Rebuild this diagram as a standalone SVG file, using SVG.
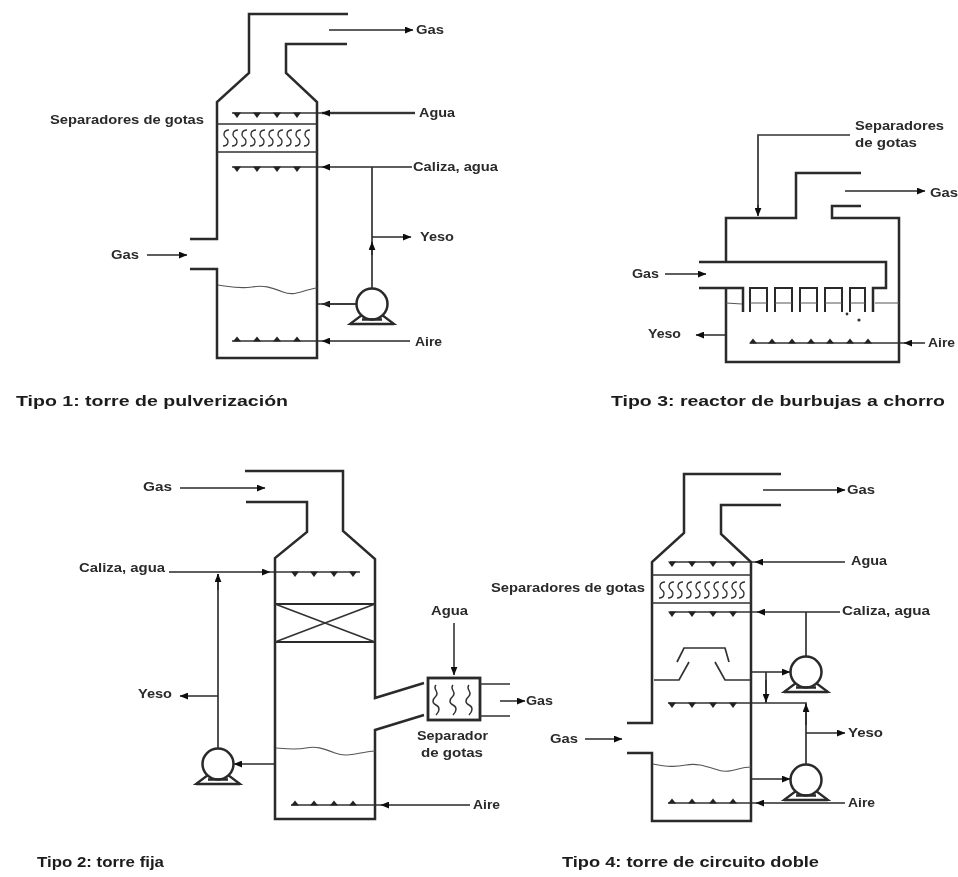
<svg xmlns="http://www.w3.org/2000/svg" width="958" height="877" viewBox="0 0 958 877">
<style>
text{font-family:"Liberation Sans",Arial,sans-serif;font-weight:bold;fill:#2a2a2a;font-size:12px}
.cap{font-size:15px;fill:#1c1c1c}
.w{fill:none;stroke:#2a2a2a;stroke-width:2.5}
.l{fill:none;stroke:#333;stroke-width:1.7}
.a{fill:none;stroke:#2a2a2a;stroke-width:1.5;marker-end:url(#ar)}
.t{fill:none;stroke:#555;stroke-width:1.1}
</style>
<defs>
<filter id="b" x="-2%" y="-2%" width="104%" height="104%"><feGaussianBlur stdDeviation="0.65"/></filter>
<marker id="ar" viewBox="0 0 10 8" refX="9.5" refY="4" markerUnits="userSpaceOnUse" markerWidth="9" markerHeight="7" orient="auto"><path d="M0 0L10 4L0 8z" fill="#111"/></marker>
<path id="nd" d="M-4 -0.5H4L0 5z" fill="#222"/>
<path id="nu" d="M-4 0.5H4L0 -4.5z" fill="#222"/>
<path id="sw" d="M3 -8C-3 -8 -3 -2 0 0S3 8 -3 8" fill="none" stroke="#333" stroke-width="1.3"/>
<path id="vw" d="M0 -15C-4 -11 4 -8 0 -4S-4 3 0 5S4 11 0 15" fill="none" stroke="#333" stroke-width="1.5"/>
<g id="pump"><circle r="15.5" fill="#fff" stroke="#2a2a2a" stroke-width="2.5"/><path d="M-10 11L-22 20H22L10 11" fill="none" stroke="#2a2a2a" stroke-width="2.2"/><path d="M-22 20H22M-10 15.5H10" stroke="#2a2a2a" stroke-width="2.6"/></g>
</defs>
<g filter="url(#b)">
<g id="connectors">
<path class="a" d="M329 30H413"/>
<path class="l" d="M322 113H415" style="stroke-width:2.6;stroke:#555"/><path class="a" d="M415 113H322"/><path class="l" d="M232 113H322"/>
<path class="a" d="M412 167H322"/><path class="l" d="M232 167H322"/>
<path class="l" d="M372 167V289"/><path class="a" d="M372 255V242"/><path class="a" d="M372 237H411"/>
<path class="a" d="M147 255H187"/>
<path class="a" d="M356 304H322"/><path class="l" d="M317 304H356"/>
<path class="a" d="M410 341H322"/><path class="l" d="M232 341H322"/>

<path class="l" d="M850 135H758V212"/><path class="a" d="M758 205V216"/>
<path class="a" d="M845 191H925"/>
<path class="a" d="M665 274H706"/>
<path class="a" d="M726 335H696"/>
<path class="a" d="M925 343H904"/><path class="l" d="M750 343H905"/>

<path class="a" d="M180 488H265"/>
<path class="a" d="M169 572H270"/><path class="l" d="M270 572H360"/>
<path class="l" d="M218 748V574"/><path class="a" d="M218 590V574"/>
<path class="a" d="M218 696H180"/>
<path class="a" d="M274 764H234"/>
<path class="a" d="M470 805H381"/><path class="l" d="M291 805H382"/>
<path class="a" d="M454 623V675"/>
<path class="a" d="M500 701H525"/>

<path class="a" d="M763 490H845"/>
<path class="a" d="M845 562H755"/><path class="l" d="M670 562H756"/>
<path class="a" d="M840 612H757"/><path class="l" d="M670 612H758"/>
<path class="l" d="M806 612V657"/>
<path class="a" d="M751 672H790"/>
<path class="l" d="M766 672V703"/><path class="a" d="M766 680V702"/>
<path class="l" d="M668 703H806V764"/><path class="a" d="M806 725V704"/>
<path class="a" d="M806 733H845"/>
<path class="a" d="M751 779H790"/>
<path class="a" d="M845 803H756"/><path class="l" d="M668 803H757"/>
<path class="a" d="M585 739H622"/>
</g>

<g id="torre-1">
<path class="w" d="M348 14H249V73L217 102V239H190"/>
<path class="w" d="M190 269H217V358H317V102L286 73V44H347"/>
<path class="l" d="M217 124H317M217 152H317"/>
<path class="t" d="M218 285C232 287 240 289 252 287S270 287 283 292S305 289 317 288"/>
<use href="#nd" x="237" y="113"/><use href="#nd" x="257" y="113"/><use href="#nd" x="277" y="113"/><use href="#nd" x="297" y="113"/>
<use href="#nd" x="237" y="167"/><use href="#nd" x="257" y="167"/><use href="#nd" x="277" y="167"/><use href="#nd" x="297" y="167"/>
<use href="#nu" x="237" y="341"/><use href="#nu" x="257" y="341"/><use href="#nu" x="277" y="341"/><use href="#nu" x="297" y="341"/>
<g><use href="#sw" x="226" y="138"/><use href="#sw" x="235" y="138"/><use href="#sw" x="244" y="138"/><use href="#sw" x="253" y="138"/><use href="#sw" x="262" y="138"/><use href="#sw" x="271" y="138"/><use href="#sw" x="280" y="138"/><use href="#sw" x="289" y="138"/><use href="#sw" x="298" y="138"/><use href="#sw" x="307" y="138"/></g>
<use href="#pump" x="372" y="304"/>
<text x="50" y="124" textLength="154" lengthAdjust="spacingAndGlyphs">Separadores de gotas</text>
<text x="416" y="34" textLength="28" lengthAdjust="spacingAndGlyphs">Gas</text><text x="419" y="117" textLength="36" lengthAdjust="spacingAndGlyphs">Agua</text><text x="413" y="171" textLength="85" lengthAdjust="spacingAndGlyphs">Caliza, agua</text><text x="420" y="241" textLength="34" lengthAdjust="spacingAndGlyphs">Yeso</text><text x="111" y="259" textLength="28" lengthAdjust="spacingAndGlyphs">Gas</text><text x="415" y="346" textLength="27" lengthAdjust="spacingAndGlyphs">Aire</text>
<text class="cap" x="16" y="406" textLength="272" lengthAdjust="spacingAndGlyphs">Tipo 1: torre de pulverización</text>
</g>

<g id="torre-3">
<path class="w" d="M726 262V218H796V173H861"/>
<path class="w" d="M861 206H832V218H899V362H726V288"/>
<path class="w" d="M699 262H886V288H873V312"/>
<path class="w" d="M699 288H743V312"/>
<path class="w" style="stroke-width:2" d="M750 312V288H767V312M775 312V288H792V312M800 312V288H817V312M825 312V288H842V312M850 312V288H865V312"/>
<path class="t" d="M726 303L742 304M750 303H767M775 303H792M800 303H817M825 303H842M850 303H865M875 303H899"/>
<circle cx="847" cy="314" r="1.4" fill="#333"/><circle cx="859" cy="320" r="1.6" fill="#333"/>
<use href="#nu" x="753" y="343"/><use href="#nu" x="772" y="343"/><use href="#nu" x="792" y="343"/><use href="#nu" x="811" y="343"/><use href="#nu" x="830" y="343"/><use href="#nu" x="850" y="343"/><use href="#nu" x="868" y="343"/>
<text x="855" y="130" textLength="89" lengthAdjust="spacingAndGlyphs">Separadores</text><text x="855" y="147" textLength="62" lengthAdjust="spacingAndGlyphs">de gotas</text>
<text x="930" y="197" textLength="28" lengthAdjust="spacingAndGlyphs">Gas</text><text x="632" y="278" textLength="27" lengthAdjust="spacingAndGlyphs">Gas</text><text x="648" y="338" textLength="33" lengthAdjust="spacingAndGlyphs">Yeso</text><text x="928" y="347" textLength="27" lengthAdjust="spacingAndGlyphs">Aire</text>
<text class="cap" x="611" y="406" textLength="334" lengthAdjust="spacingAndGlyphs">Tipo 3: reactor de burbujas a chorro</text>
</g>

<g id="torre-2">
<path class="w" d="M245 471H343V531L375 559V698L424 683"/>
<path class="w" d="M246 502H307V532L275 558V819H375V730L424 715"/>
<path class="w" style="stroke-width:2" d="M275 604H375M275 642H375"/>
<path class="l" d="M275 604L375 642M375 604L275 642"/>
<path class="t" d="M276 748C288 749 296 750 306 748S322 748 335 753S358 752 375 751"/>
<use href="#nd" x="295" y="572"/><use href="#nd" x="314" y="572"/><use href="#nd" x="334" y="572"/><use href="#nd" x="353" y="572"/>
<use href="#nu" x="295" y="805"/><use href="#nu" x="314" y="805"/><use href="#nu" x="334" y="805"/><use href="#nu" x="353" y="805"/>
<use href="#pump" x="218" y="764"/>
<rect x="428" y="678" width="52" height="42" fill="none" stroke="#2a2a2a" stroke-width="2.8"/>
<path class="l" d="M480 684H510M480 716H510"/>
<use href="#vw" x="436" y="700"/><use href="#vw" x="453" y="700"/><use href="#vw" x="469" y="700"/>
<text x="143" y="491" textLength="29" lengthAdjust="spacingAndGlyphs">Gas</text><text x="79" y="572" textLength="86" lengthAdjust="spacingAndGlyphs">Caliza, agua</text><text x="138" y="698" textLength="34" lengthAdjust="spacingAndGlyphs">Yeso</text><text x="431" y="615" textLength="37" lengthAdjust="spacingAndGlyphs">Agua</text><text x="526" y="705" textLength="27" lengthAdjust="spacingAndGlyphs">Gas</text>
<text x="417" y="740" textLength="71" lengthAdjust="spacingAndGlyphs">Separador</text><text x="421" y="757" textLength="62" lengthAdjust="spacingAndGlyphs">de gotas</text><text x="473" y="809" textLength="27" lengthAdjust="spacingAndGlyphs">Aire</text>
<text class="cap" x="37" y="867" textLength="127" lengthAdjust="spacingAndGlyphs">Tipo 2: torre fija</text>
</g>

<g id="torre-4">
<path class="w" d="M781 474H684V533L652 562V723H627"/>
<path class="w" d="M627 753H652V821H751V562L721 534V505H781"/>
<path class="l" d="M652 575H751M652 603H751"/>
<path class="l" d="M654 680H679L689 662M751 680H725L715 662M677 662L684 648H725L729 662"/>
<path class="t" d="M653 764C668 767 675 767 686 765S705 766 718 770S738 767 751 767"/>
<use href="#nd" x="672" y="562"/><use href="#nd" x="692" y="562"/><use href="#nd" x="713" y="562"/><use href="#nd" x="733" y="562"/>
<use href="#nd" x="672" y="612"/><use href="#nd" x="692" y="612"/><use href="#nd" x="713" y="612"/><use href="#nd" x="733" y="612"/>
<use href="#nd" x="672" y="703"/><use href="#nd" x="692" y="703"/><use href="#nd" x="713" y="703"/><use href="#nd" x="733" y="703"/>
<use href="#nu" x="672" y="803"/><use href="#nu" x="692" y="803"/><use href="#nu" x="713" y="803"/><use href="#nu" x="733" y="803"/>
<g><use href="#sw" x="662" y="590"/><use href="#sw" x="671" y="590"/><use href="#sw" x="680" y="590"/><use href="#sw" x="689" y="590"/><use href="#sw" x="698" y="590"/><use href="#sw" x="707" y="590"/><use href="#sw" x="716" y="590"/><use href="#sw" x="725" y="590"/><use href="#sw" x="734" y="590"/><use href="#sw" x="742" y="590"/></g>
<use href="#pump" x="806" y="672"/><use href="#pump" x="806" y="780"/>
<text x="847" y="494" textLength="28" lengthAdjust="spacingAndGlyphs">Gas</text><text x="851" y="565" textLength="36" lengthAdjust="spacingAndGlyphs">Agua</text><text x="491" y="592" textLength="154" lengthAdjust="spacingAndGlyphs">Separadores de gotas</text><text x="842" y="615" textLength="88" lengthAdjust="spacingAndGlyphs">Caliza, agua</text>
<text x="848" y="737" textLength="35" lengthAdjust="spacingAndGlyphs">Yeso</text><text x="550" y="743" textLength="28" lengthAdjust="spacingAndGlyphs">Gas</text><text x="848" y="807" textLength="27" lengthAdjust="spacingAndGlyphs">Aire</text>
<text class="cap" x="562" y="867" textLength="257" lengthAdjust="spacingAndGlyphs">Tipo 4: torre de circuito doble</text>
</g>
</g>
</svg>
